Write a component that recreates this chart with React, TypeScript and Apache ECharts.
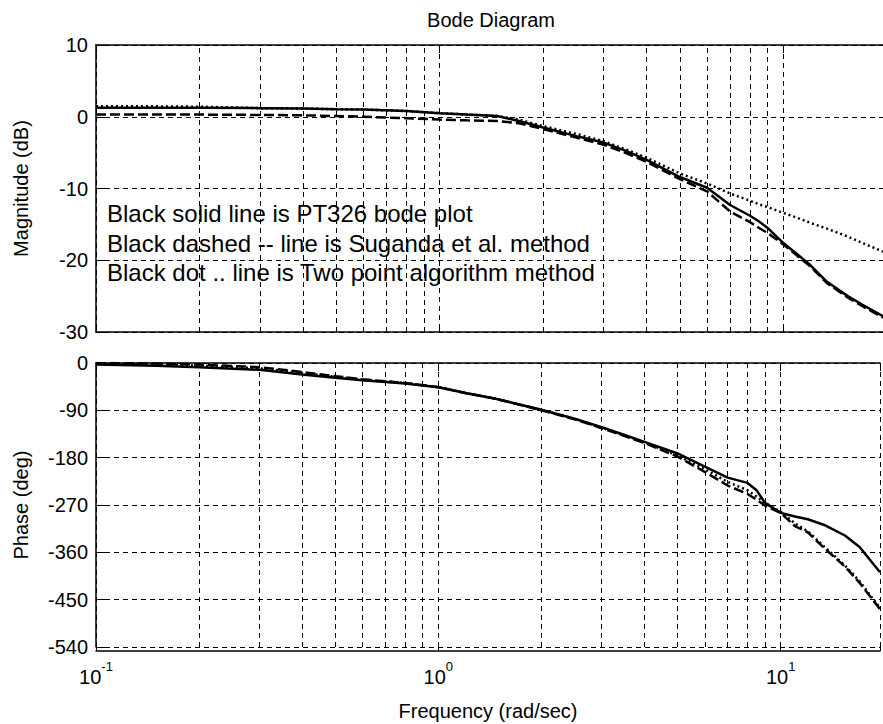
import React, { useEffect, useRef } from "react";
import * as echarts from "echarts";

// Frequencies (rad/sec) shared by all series
const freq = [0.1, 0.15, 0.2, 0.3, 0.4, 0.5, 0.6, 0.8, 1, 1.2, 1.47, 1.7, 2, 2.5, 3, 3.5, 4, 5, 6, 7, 8, 8.5, 9, 10, 11, 12, 13.4, 15.4, 17, 19.5];

// Magnitude (dB)
const magSolid = [1.25, 1.25, 1.25, 1.2, 1.15, 1.05, 1.0, 0.8, 0.5, 0.3, 0.1, -0.6, -1.5, -2.7, -3.6, -4.8, -6.0, -8.4, -9.9, -12.3, -13.8, -14.6, -15.5, -17.6, -19.2, -20.7, -23.0, -25.0, -26.2, -27.8];
const magDashed = [0.3, 0.3, 0.3, 0.25, 0.2, 0.1, 0, -0.2, -0.4, -0.5, -0.6, -0.9, -1.7, -2.9, -3.9, -5.1, -6.3, -8.7, -10.4, -13.2, -14.7, -15.5, -16.2, -17.8, -19.4, -20.9, -23.2, -25.2, -26.4, -28.0];
const magDotted = [1.45, 1.45, 1.4, 1.2, 1.15, 1.05, 1.0, 0.8, 0.5, 0.3, 0.1, -0.4, -1.3, -2.4, -3.4, -4.6, -5.7, -7.9, -9.3, -10.7, -11.7, -12.2, -12.6, -13.4, -14.1, -14.8, -15.6, -16.7, -17.6, -18.8];

// Phase (deg)
const phaseSolid = [-3, -5, -8, -13, -22, -28, -33, -39, -46, -57, -68, -78, -89, -106, -122, -137, -150, -172, -197, -218, -228, -242, -266, -285, -292, -297, -308, -328, -350, -398];
const phaseDashed = [0, -1, -3, -8, -17, -25, -31, -38, -46, -57, -68, -78, -90, -107, -124, -139, -152, -178, -207, -233, -249, -260, -271, -285, -310, -322, -352, -387, -418, -468];
const phaseDotted = [-2, -3, -5, -10, -19, -26, -32, -38, -46, -57, -68, -78, -89, -106, -123, -138, -151, -176, -202, -226, -242, -254, -266, -283, -305, -320, -349, -385, -415, -466];

// Minor (2..9 per decade) vertical grid positions
const minorFreqs = [0.2, 0.3, 0.4, 0.5, 0.6, 0.7, 0.8, 0.9, 2, 3, 4, 5, 6, 7, 8, 9];

const freqMin = 0.1;
const freqMax = 19.5;
const magMin = -30, magMax = 10, magStep = 10;
const phaseMin = -540, phaseMax = 0, phaseStep = 90;

const titleText = "Bode Diagram";
const magName = "Magnitude (dB)";
const phaseName = "Phase (deg)";
const freqName = "Frequency (rad/sec)";
const notes = [
  "Black solid line is PT326 bode plot",
  "Black dashed -- line is Suganda et al. method",
  "Black dot .. line is Two point algorithm method",
];

const FONT = "'Liberation Sans', Arial, Helvetica, sans-serif";

export default function App() {
  const ref = useRef<HTMLDivElement>(null);
  useEffect(() => {
    const chart = echarts.init(ref.current!, null, { renderer: "svg" });
    const black = "#000";
    const pairs = (v: number[]) => freq.map((w, i) => [w, v[i]]);
    const gridDash = { color: black, width: 1, type: [5, 4] as any };

    const xBottom = (gi: number, labels: boolean, offset: number) => ({
      type: "log",
      logBase: 10,
      gridIndex: gi,
      min: freqMin,
      max: freqMax,
      position: "bottom",
      offset,
      axisLine: { show: true, onZero: false, lineStyle: { color: black, width: 1.5 } },
      axisTick: { show: true, inside: true, length: 8, lineStyle: { color: black } },
      splitLine: { show: true, lineStyle: gridDash },
      axisLabel: {
        show: labels,
        color: black,
        margin: 6,
        formatter: (v: number) => {
          const e = Math.log10(v);
          if (Math.abs(e - Math.round(e)) > 1e-6) return "";
          return `{b|10}{s|${Math.round(e)}}`;
        },
        rich: {
          b: { fontSize: 20, fontFamily: FONT, color: black, padding: [10, 0, 0, 0] },
          s: { fontSize: 13, fontFamily: FONT, color: black, padding: [0, 0, 12, 0] },
        },
      },
      name: labels ? freqName : "",
      nameLocation: "middle",
      nameGap: 50,
      nameTextStyle: { fontSize: 20, fontFamily: FONT, color: black },
    });
    const xTop = (gi: number) => ({
      type: "log",
      logBase: 10,
      gridIndex: gi,
      min: freqMin,
      max: freqMax,
      position: "top",
      axisLine: { show: true, onZero: false, lineStyle: { color: black, width: 1.5 } },
      axisTick: { show: true, inside: true, length: 8, lineStyle: { color: black } },
      splitLine: { show: false },
      axisLabel: { show: false },
    });
    const yAx = (gi: number, min: number, max: number, step: number, name: string) => ({
      type: "value",
      gridIndex: gi,
      min,
      max,
      interval: step,
      axisLine: { show: true, onZero: false, lineStyle: { color: black, width: 1.5 } },
      axisTick: { show: true, inside: true, length: 9, lineStyle: { color: black } },
      splitLine: { show: true, lineStyle: gridDash },
      axisLabel: { color: black, fontSize: 20, fontFamily: FONT, margin: 8 },
      name,
      nameLocation: "middle",
      nameGap: 65,
      nameTextStyle: { fontSize: 20, fontFamily: FONT, color: black },
    });
    const minorLines = {
      silent: true,
      symbol: ["none", "none"],
      label: { show: false },
      lineStyle: gridDash,
      emphasis: { disabled: true },
      data: minorFreqs.map((v) => ({ xAxis: v })),
    };
    const line = (name: string, data: number[], xi: number, yi: number, type: any, withGrid: boolean) => ({
      name,
      type: "line",
      xAxisIndex: xi,
      yAxisIndex: yi,
      data: pairs(data),
      showSymbol: false,
      symbol: "none",
      lineStyle: { color: black, width: 2.5, type },
      z: 3,
      ...(withGrid ? { markLine: minorLines } : {}),
    });

    chart.setOption({
      animation: false,
      backgroundColor: "#fff",
      textStyle: { fontFamily: FONT },
      grid: [
        { left: 96, top: 45, width: 792, height: 287 },
        { left: 96, top: 363, width: 792, height: 284 },
      ],
      xAxis: [xBottom(0, false, 0), xTop(0), xBottom(1, true, 4), xTop(1)],
      yAxis: [
        yAx(0, magMin, magMax, magStep, magName),
        yAx(1, phaseMin, phaseMax, phaseStep, phaseName),
      ],
      series: [
        line("PT326", magSolid, 0, 0, "solid", true),
        line("Suganda", magDashed, 0, 0, [10, 4], false),
        line("Two point", magDotted, 0, 0, [2, 3], false),
        line("PT326 phase", phaseSolid, 2, 1, "solid", true),
        line("Suganda phase", phaseDashed, 2, 1, [10, 4], false),
        line("Two point phase", phaseDotted, 2, 1, [2, 3], false),
      ],
      graphic: [
        {
          type: "text",
          x: 491,
          y: 20,
          style: { text: titleText, fontSize: 20, fontFamily: FONT, fill: black, align: "center", verticalAlign: "middle" },
        },
        ...notes.map((t, i) => ({
          type: "text",
          x: 107,
          y: [213.5, 243, 272][i],
          z: 10,
          style: { text: t, fontSize: 24, fontFamily: FONT, fill: black, align: "left", verticalAlign: "middle" },
        })),
      ],
    });
    return () => chart.dispose();
  }, []);
  return <div ref={ref} style={{ position: "absolute", left: 0, top: 0, width: 883, height: 724 }} />;
}
